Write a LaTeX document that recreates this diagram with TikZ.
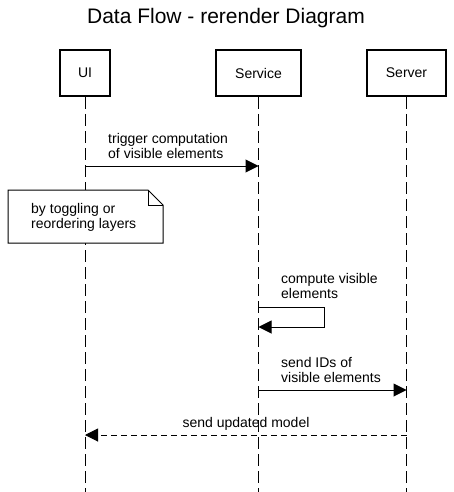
\documentclass[tikz,border=0pt]{standalone}
\usepackage{fontspec}
\setmainfont{Liberation Sans}
\usetikzlibrary{arrows.meta,positioning,calc}

\begin{document}
\begin{tikzpicture}[
          x=1pt, y=-1pt,
          font=\fontsize{14}{15}\selectfont,
          actor/.style={rectangle, draw, line width=2pt, minimum height=46pt, inner sep=0pt},
          lifeline/.style={draw, line width=1pt, dash pattern=on 12pt off 5pt},
          msg/.style={-{Triangle[length=13pt, width=13pt]}, line width=1pt},
          reply/.style={msg, dash pattern=on 6pt off 4pt},
          msglabel/.style={anchor=south west, inner sep=0pt, text depth=0pt, align=left},
          notebox/.style={fill=white, line width=1pt},
          note/.style={align=left, inner sep=0pt, anchor=west}
        ]
          \useasboundingbox (0,0) rectangle (453,492);

          % title
          \node[font=\fontsize{21}{24}\selectfont] (title) at (226,18) {Data Flow - rerender Diagram};

          % participants
          \node[actor, minimum width=50pt] (ui) at (85,73) {UI};
          \node[actor, minimum width=85pt] (svc) at (258.5,73) {Service};
          \node[actor, minimum width=79pt] (srv) at (406.5,73) {Server};

          % lifelines
          \coordinate (ui-end) at (ui.south |- 0,492);
          \coordinate (svc-end) at (svc.south |- 0,492);
          \coordinate (srv-end) at (srv.south |- 0,492);
          \draw[lifeline] (ui.south) -- (ui-end);
          \draw[lifeline] (svc.south) -- (svc-end);
          \draw[lifeline] (srv.south) -- (srv-end);

          % trigger
          \coordinate (ui-m1) at (ui.south |- 0,166);
          \coordinate (svc-m1) at (svc.south |- 0,166);
          \draw[msg] (ui-m1) -- (svc-m1);
          \node[msglabel] (m1) at (108,159) {trigger computation\\of visible elements};

          % note (folded corner)
          \draw[notebox] (8,190) -- (148,190) -- (163,205) -- (163,243) -- (8,243) -- cycle;
          \draw[line width=1pt] (148,190) -- (148,205) -- (163,205);
          \node[note] (notetext) at (31,217) {by toggling or\\reordering layers};

          % compute (self message)
          \coordinate (svc-m2a) at (svc.south |- 0,307);
          \coordinate (svc-m2b) at (svc.south |- 0,327);
          \draw[msg] (svc-m2a) -- ++(66,0) |- (svc-m2b);
          \node[msglabel] (m2) at (281,299) {compute visible\\elements};

          % send IDs
          \coordinate (svc-m3) at (svc.south |- 0,390);
          \coordinate (srv-m3) at (srv.south |- 0,390);
          \draw[msg] (svc-m3) -- (srv-m3);
          \node[msglabel] (m3) at (281,383) {send IDs of\\visible elements};

          % updated model
          \coordinate (srv-m4) at (srv.south |- 0,435);
          \coordinate (ui-m4) at (ui.south |- 0,435);
          \draw[reply] (srv-m4) -- (ui-m4);
          \node[inner sep=0pt, text depth=0pt, anchor=south] (m4) at (246,428) {send updated model};

        \end{tikzpicture}
\end{document}
